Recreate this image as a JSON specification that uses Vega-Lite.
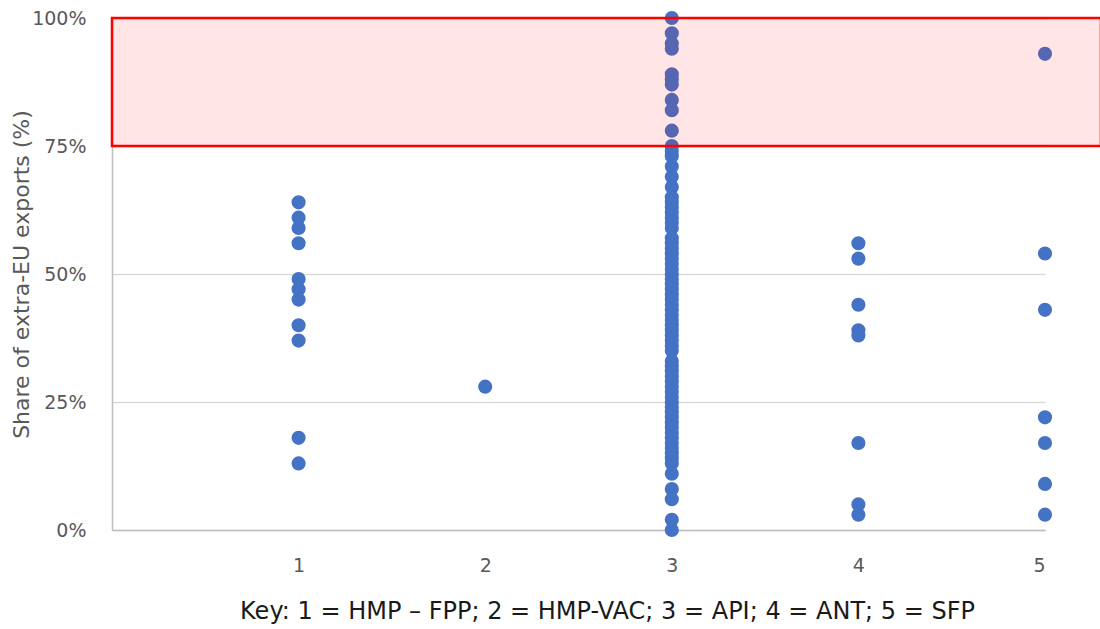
{
  "$schema": "https://vega.github.io/schema/vega-lite/v6.json",
  "autosize": {"type": "none"},
  "width": 933,
  "height": 512,
  "padding": {"left": 112, "top": 18, "right": 55, "bottom": 99},
  "background": "white",
  "config": {"view": {"stroke": null}, "font": "DejaVu Sans"},
  "datasets": {
    "pts": [
      {"cat": 1, "share": 64}, {"cat": 1, "share": 61}, {"cat": 1, "share": 59}, {"cat": 1, "share": 56}, {"cat": 1, "share": 49}, {"cat": 1, "share": 47}, {"cat": 1, "share": 45}, {"cat": 1, "share": 40}, {"cat": 1, "share": 37}, {"cat": 1, "share": 18}, {"cat": 1, "share": 13},
      {"cat": 2, "share": 28},
      {"cat": 3, "share": 100}, {"cat": 3, "share": 97}, {"cat": 3, "share": 95}, {"cat": 3, "share": 94}, {"cat": 3, "share": 89}, {"cat": 3, "share": 88}, {"cat": 3, "share": 87}, {"cat": 3, "share": 84}, {"cat": 3, "share": 82}, {"cat": 3, "share": 78}, {"cat": 3, "share": 75}, {"cat": 3, "share": 74}, {"cat": 3, "share": 73}, {"cat": 3, "share": 71}, {"cat": 3, "share": 69}, {"cat": 3, "share": 67}, {"cat": 3, "share": 65}, {"cat": 3, "share": 64}, {"cat": 3, "share": 63}, {"cat": 3, "share": 62}, {"cat": 3, "share": 61}, {"cat": 3, "share": 60}, {"cat": 3, "share": 59}, {"cat": 3, "share": 57}, {"cat": 3, "share": 56}, {"cat": 3, "share": 55}, {"cat": 3, "share": 54}, {"cat": 3, "share": 53}, {"cat": 3, "share": 52}, {"cat": 3, "share": 51}, {"cat": 3, "share": 50}, {"cat": 3, "share": 49}, {"cat": 3, "share": 48}, {"cat": 3, "share": 47}, {"cat": 3, "share": 46}, {"cat": 3, "share": 45}, {"cat": 3, "share": 44}, {"cat": 3, "share": 43}, {"cat": 3, "share": 42}, {"cat": 3, "share": 41}, {"cat": 3, "share": 40}, {"cat": 3, "share": 39}, {"cat": 3, "share": 38}, {"cat": 3, "share": 37}, {"cat": 3, "share": 36}, {"cat": 3, "share": 35}, {"cat": 3, "share": 33}, {"cat": 3, "share": 32}, {"cat": 3, "share": 31}, {"cat": 3, "share": 30}, {"cat": 3, "share": 29}, {"cat": 3, "share": 28}, {"cat": 3, "share": 27}, {"cat": 3, "share": 26}, {"cat": 3, "share": 25}, {"cat": 3, "share": 24}, {"cat": 3, "share": 23}, {"cat": 3, "share": 22}, {"cat": 3, "share": 21}, {"cat": 3, "share": 20}, {"cat": 3, "share": 19}, {"cat": 3, "share": 18}, {"cat": 3, "share": 17}, {"cat": 3, "share": 16}, {"cat": 3, "share": 15}, {"cat": 3, "share": 14}, {"cat": 3, "share": 13}, {"cat": 3, "share": 11}, {"cat": 3, "share": 8}, {"cat": 3, "share": 6}, {"cat": 3, "share": 2}, {"cat": 3, "share": 0},
      {"cat": 4, "share": 56}, {"cat": 4, "share": 53}, {"cat": 4, "share": 44}, {"cat": 4, "share": 39}, {"cat": 4, "share": 38}, {"cat": 4, "share": 17}, {"cat": 4, "share": 5}, {"cat": 4, "share": 3},
      {"cat": 5, "share": 93}, {"cat": 5, "share": 54}, {"cat": 5, "share": 43}, {"cat": 5, "share": 22}, {"cat": 5, "share": 17}, {"cat": 5, "share": 9}, {"cat": 5, "share": 3}
    ],
    "zone": [{"x0": 0, "x1": 5.3, "y0": 75, "y1": 100}]
  },
  "layer": [
    {
      "data": {"name": "pts"},
      "mark": {"type": "circle", "size": 200, "opacity": 1, "color": "#4472C4"},
      "encoding": {
        "x": {
          "field": "cat", "type": "quantitative",
          "scale": {"domain": [0, 5], "nice": false},
          "axis": {
            "values": [1, 2, 3, 4, 5],
            "format": "d",
            "grid": false, "ticks": false,
            "domainColor": "#bfbfbf", "domainWidth": 1.5,
            "labelFontSize": 19, "labelColor": "#595959", "labelPadding": 26,
            "title": "Key: 1 = HMP – FPP; 2 = HMP-VAC; 3 = API; 4 = ANT; 5 = SFP",
            "titleFontSize": 24, "titleFontWeight": "normal", "titleColor": "#1a1a1a", "titlePadding": 24,
            "titleX": 495, "titleAnchor": "start", "titleAlign": "center"
          }
        },
        "y": {
          "field": "share", "type": "quantitative",
          "scale": {"domain": [0, 100], "nice": false},
          "axis": {
            "values": [0, 25, 50, 75, 100],
            "labelExpr": "datum.value + '%'",
            "grid": true, "gridColor": "#d9d9d9", "gridWidth": 1.5,
            "ticks": false,
            "domainColor": "#bfbfbf", "domainWidth": 1.5,
            "labelFontSize": 19, "labelColor": "#595959", "labelPadding": 26,
            "title": "Share of extra-EU exports (%)",
            "titleFontSize": 22, "titleFontWeight": "normal", "titleColor": "#595959", "titlePadding": -2
          }
        }
      }
    },
    {
      "data": {"name": "zone"},
      "mark": {"type": "rect", "fill": "#ff0000", "fillOpacity": 0.1, "stroke": "#ff0000", "strokeWidth": 2.5, "clip": false},
      "encoding": {
        "x": {"field": "x0", "type": "quantitative"},
        "x2": {"field": "x1"},
        "y": {"field": "y0", "type": "quantitative"},
        "y2": {"field": "y1"}
      }
    }
  ]
}
